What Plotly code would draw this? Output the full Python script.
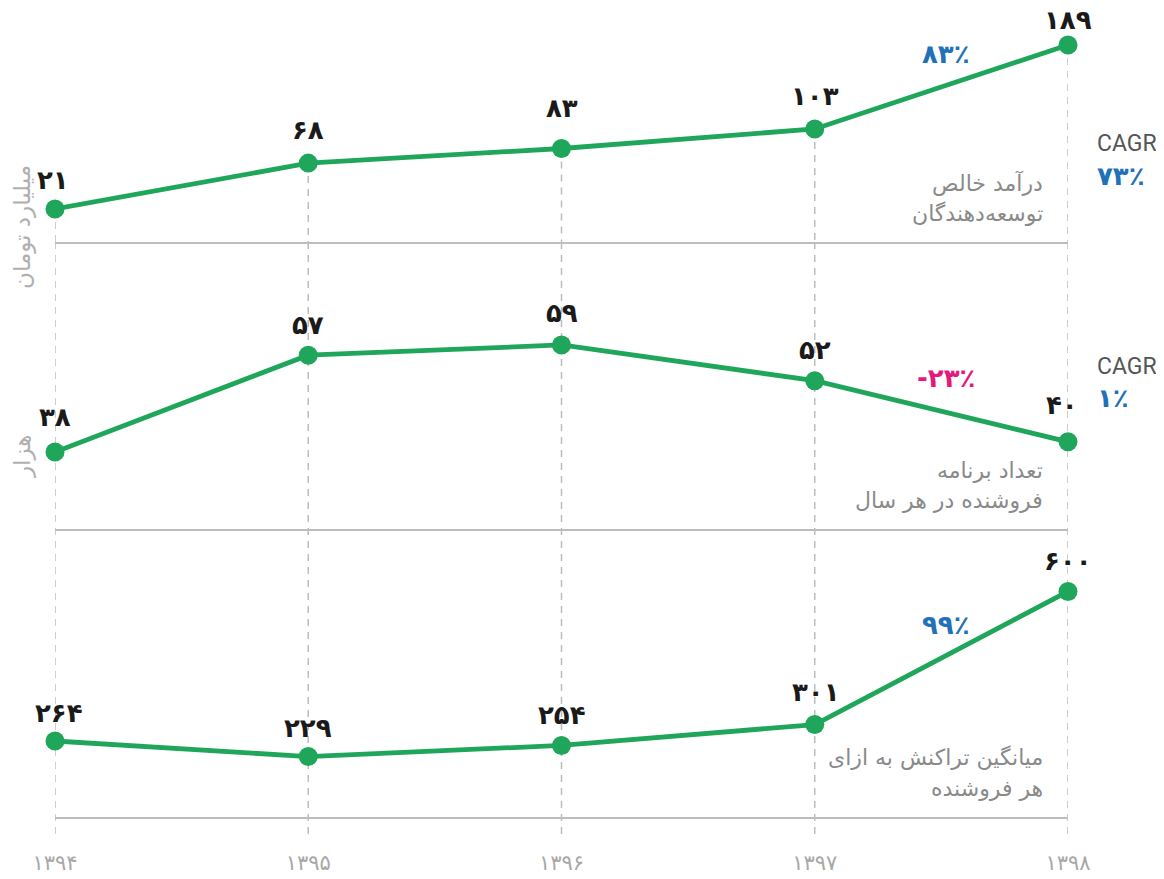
import plotly.graph_objects as go

# ---------------- data ----------------
years = [1394, 1395, 1396, 1397, 1398]
revenue = [21, 68, 83, 103, 189]          # میلیارد تومان
apps = [38, 57, 59, 52, 40]               # هزار
avg_tx = [264, 229, 254, 301, 600]
last_growth = [83, -23, 99]               # % change 1397 -> 1398
cagr = [73, 1]
panel_titles = [
    ["درآمد خالص", "توسعه‌دهندگان"],
    ["تعداد برنامه", "فروشنده در هر سال"],
    ["میانگین تراکنش به ازای", "هر فروشنده"],
]
unit_titles = ["میلیارد تومان", "هزار"]

FA = str.maketrans("0123456789", "۰۱۲۳۴۵۶۷۸۹")


def fa(n):
    s = str(abs(n)).translate(FA)
    return ("-" + s) if n < 0 else s


# ---------------- style ----------------
OFF = 8                      # default body margin of the page
W, H = 1164 - 2 * OFF, 879 - OFF
PLOT_L, PLOT_R = 55, 1068    # page px
PLOT_T, PLOT_B = 8, 840      # page px
ML = PLOT_L - OFF
MR = W - (PLOT_R - OFF)
MT = PLOT_T - OFF
PH = PLOT_B - PLOT_T
MB = H - MT - PH

GREEN = "#1fa65b"
BLUE = "#1f72b8"
MAGENTA = "#e3197c"
GRID = "#bdbdbd"
DASH = "7px,6px"
FONT_FA = "DejaVu Sans"

# label offsets above points (px), per panel / per point (style only)
label_dy = [[29, 33, 40, 33, 25], [35, 30, 32, 31, 37], [28, 29, 30, 33, 30]]
label_dx = [[-2, 0, 0, 0, 0], [0, 0, 0, 0, -6], [4, 0, 0, 1, 0]]


def py(px):  # page pixel (from top) -> paper y
    return (PLOT_B - px) / PH


# panel pixel bounds (top, bottom), page coords
bounds = [(8, 242), (242, 529), (529, 817)]
yranges = [[-12.8, 226.9], [22.9, 79.2], [93.2, 740.4]]
series = [revenue, apps, avg_tx]
axn = ["2", "3", "4"]        # panel axes; "x"/"y" is the background guide overlay

fig = go.Figure()

# full-height dashed guides for the lower panels (background overlay axis x/y)
gx, gy = [], []
for x in years:
    gx += [x, x, None]
    gy += [1, 0, None]
fig.add_trace(go.Scatter(x=gx, y=gy, mode="lines", xaxis="x", yaxis="y",
                         line=dict(color=GRID, width=1.5, dash=DASH),
                         hoverinfo="skip", showlegend=False, cliponaxis=False))

# drop lines in first panel (point down to panel bottom)
dx, dy = [], []
for x, v in zip(years, revenue):
    dx += [x, x, None]
    dy += [v, yranges[0][0], None]
fig.add_trace(go.Scatter(x=dx, y=dy, mode="lines", xaxis="x2", yaxis="y2",
                         line=dict(color=GRID, width=1.5, dash=DASH),
                         hoverinfo="skip", showlegend=False, cliponaxis=False))

for i, vals in enumerate(series):
    fig.add_trace(go.Scatter(
        x=years, y=vals, mode="lines+markers",
        xaxis="x" + axn[i], yaxis="y" + axn[i],
        line=dict(color=GREEN, width=4.8),
        marker=dict(color=GREEN, size=19),
        cliponaxis=False, showlegend=False))

annotations = []
# value labels
for i, vals in enumerate(series):
    for j, (x, v) in enumerate(zip(years, vals)):
        annotations.append(dict(
            x=x, y=v, xref="x" + axn[i], yref="y" + axn[i],
            text=fa(v), showarrow=False,
            yshift=label_dy[i][j], xshift=label_dx[i][j],
            font=dict(family=FONT_FA, size=26, color="#1a1a1a", weight="bold")))

# growth labels between last two years
for i, g in enumerate(last_growth):
    vals = series[i]
    annotations.append(dict(
        x=(years[-2] + years[-1]) / 2, y=(vals[-2] + vals[-1]) / 2,
        xref="x" + axn[i], yref="y" + axn[i],
        text=fa(g) + "٪", showarrow=False, yshift=33, xshift=5,
        font=dict(family=FONT_FA, size=26, color=(MAGENTA if g < 0 else BLUE),
                  weight="bold")))

# panel titles
for i, lines in enumerate(panel_titles):
    for j, line in enumerate(lines):
        annotations.append(dict(
            x=1, xref="x" + axn[i] + " domain", xanchor="right", xshift=-23,
            y=0, yref="y" + axn[i] + " domain", yanchor="middle",
            yshift=59 - 30 * j,
            text=line, showarrow=False,
            font=dict(family=FONT_FA, size=22, color="#8a8a8a")))

# CAGR labels
cagr_px = [(143, 176), (366, 398)]
for (p1, p2), c in zip(cagr_px, cagr):
    annotations.append(dict(x=1, xref="paper", xanchor="left", xshift=27,
                            y=py(p1), yref="paper", yanchor="middle",
                            text="CAGR", showarrow=False,
                            font=dict(family="Roboto", size=23, color="#555555")))
    annotations.append(dict(x=1, xref="paper", xanchor="left", xshift=27,
                            y=py(p2), yref="paper", yanchor="middle",
                            text=fa(c) + "٪", showarrow=False,
                            font=dict(family=FONT_FA, size=26, color=BLUE, weight="bold")))

# unit titles (vertical)
for t, p in zip(unit_titles, [227, 457]):
    annotations.append(dict(x=0, xref="paper", xanchor="center", xshift=-33,
                            y=py(p), yref="paper", yanchor="middle",
                            text=t, textangle=-90, showarrow=False,
                            font=dict(family=FONT_FA, size=23, color="#b0b0b0")))

layout = dict(
    width=W, height=H,
    margin=dict(l=ML, r=MR, t=MT, b=MB),
    paper_bgcolor="white", plot_bgcolor="rgba(0,0,0,0)",
    showlegend=False,
    annotations=annotations,
)

# background overlay axis spanning the lower panels and the tick area
layout["yaxis"] = dict(domain=[py(840), py(242)], visible=False, range=[0, 1],
                       fixedrange=True)
layout["xaxis"] = dict(
    anchor="y", range=[years[0], years[-1]],
    showline=False, showgrid=False, zeroline=False, ticks="",
    tickvals=years, ticktext=[fa(y) for y in years],
    tickfont=dict(family=FONT_FA, size=21, color="#a8a8a8"),
    ticklabelstandoff=8)

for k, (top, bot) in enumerate(bounds):
    n = axn[k]
    layout["yaxis" + n] = dict(domain=[py(bot), py(top)], visible=False,
                               range=yranges[k], fixedrange=True)
    layout["xaxis" + n] = dict(
        anchor="y" + n, range=[years[0], years[-1]],
        showline=True, linecolor=GRID, linewidth=1.5,
        showgrid=False, zeroline=False, ticks="", showticklabels=False)

fig.update_layout(**layout)
fig.write_html("out.html")
